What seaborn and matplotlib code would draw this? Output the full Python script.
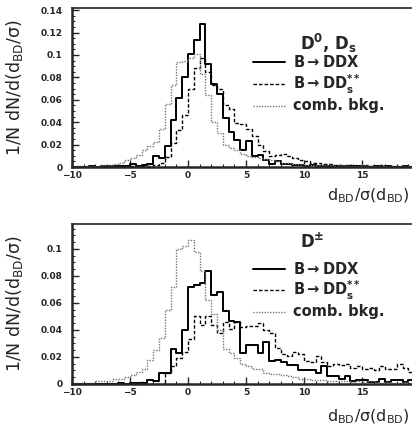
import numpy as np
import pandas as pd
import matplotlib
matplotlib.use("Agg")
import matplotlib.pyplot as plt
import seaborn as sns

# bins of d_BD/sigma, width 0.5 from -10 to 20
bin_edges = [float(v) for v in np.arange(-10, 20.01, 0.5)]
bin_centers = [v + 0.25 for v in bin_edges[:-1]]

# upper panel: D0, Ds
top_ddx = [0, 0, 0, 0.0005, 0, 0.0005, 0.0005, 0.001, 0.0005, 0.001,
           0.0025, 0.001, 0.002, 0.003, 0.0095, 0.008, 0.019, 0.042, 0.062, 0.08,
           0.101, 0.113, 0.128, 0.092, 0.074, 0.065, 0.044, 0.031, 0.024, 0.015,
           0.023, 0.01, 0.011, 0.006, 0.003, 0.005, 0.003, 0.003, 0.002, 0.002,
           0.001, 0.0015, 0.001, 0.001, 0.0005, 0.001, 0.0005, 0.0005, 0.001, 0.0005,
           0.0005, 0, 0.0005, 0, 0.0005, 0, 0, 0.0005, 0, 0]
top_dds = [0, 0, 0, 0, 0, 0, 0, 0.0005, 0, 0.0005,
           0.001, 0.0005, 0.001, 0.001, 0.002, 0.004, 0.009, 0.021, 0.033, 0.046,
           0.07, 0.088, 0.097, 0.085, 0.073, 0.07, 0.055, 0.052, 0.039, 0.038,
           0.034, 0.028, 0.02, 0.014, 0.01, 0.011, 0.012, 0.01, 0.008, 0.006,
           0.005, 0.004, 0.004, 0.003, 0.003, 0.002, 0.002, 0.0015, 0.002, 0.001,
           0.0015, 0.001, 0.001, 0.0015, 0.001, 0.0005, 0.001, 0.001, 0.0005, 0.001]
top_bkg = [0.0005, 0.001, 0.0005, 0.001, 0.001, 0.0015, 0.002, 0.003, 0.004, 0.006,
           0.008, 0.011, 0.015, 0.019, 0.022, 0.034, 0.056, 0.073, 0.094, 0.095,
           0.097, 0.101, 0.083, 0.064, 0.04, 0.03, 0.02, 0.017, 0.015, 0.012,
           0.01, 0.009, 0.008, 0.007, 0.006, 0.005, 0.004, 0.004, 0.003, 0.003,
           0.002, 0.002, 0.002, 0.0015, 0.0015, 0.001, 0.0015, 0.001, 0.001, 0.001,
           0.0015, 0.001, 0.001, 0.001, 0.0005, 0.001, 0.001, 0.0005, 0.001, 0.0005]

# lower panel: D+-
bot_ddx = [0, 0, 0, 0, 0, 0, 0, 0, 0.0005, 0,
           0.001, 0.0005, 0.001, 0.003, 0.002, 0.008, 0.008, 0.026, 0.023, 0.04,
           0.072, 0.073, 0.075, 0.084, 0.066, 0.068, 0.054, 0.047, 0.046, 0.023,
           0.029, 0.029, 0.023, 0.031, 0.017, 0.018, 0.016, 0.014, 0.014, 0.01,
           0.01, 0.01, 0.008, 0.013, 0.006, 0.006, 0.004, 0.006, 0.002, 0.003,
           0.003, 0.0015, 0.0015, 0.0035, 0.0015, 0.003, 0.003, 0.0015, 0.003, 0.0015]
bot_dds = [0, 0, 0, 0, 0, 0, 0, 0, 0, 0,
           0, 0, 0, 0, 0, 0, 0.008, 0.013, 0.019, 0.024,
           0.033, 0.05, 0.044, 0.05, 0.044, 0.038, 0.046, 0.041, 0.046, 0.042,
           0.043, 0.043, 0.045, 0.04, 0.038, 0.027, 0.022, 0.021, 0.024, 0.022,
           0.017, 0.016, 0.021, 0.016, 0.013, 0.015, 0.014, 0.015, 0.012, 0.013,
           0.011, 0.012, 0.01, 0.013, 0.011, 0.011, 0.015, 0.012, 0.009, 0.008]
bot_bkg = [0.001, 0.001, 0.001, 0.001, 0.002, 0.002, 0.002, 0.004, 0.004, 0.005,
           0.007, 0.009, 0.011, 0.018, 0.025, 0.034, 0.055, 0.072, 0.1, 0.102,
           0.107, 0.098, 0.084, 0.062, 0.052, 0.04, 0.026, 0.023, 0.019, 0.015,
           0.013, 0.011, 0.011, 0.0085, 0.0075, 0.0075, 0.0065, 0.006, 0.005, 0.004,
           0.004, 0.003, 0.003, 0.003, 0.002, 0.002, 0.002, 0.002, 0.0015, 0.002,
           0.0015, 0.002, 0.0015, 0.001, 0.0015, 0.001, 0.001, 0.0015, 0.001, 0.001]

labels = [r"B$\rightarrow$DDX", r"B$\rightarrow$DD$^{**}_{s}$", "comb. bkg."]
styles = [dict(color="black", linestyle="-", linewidth=1.4),
          dict(color="black", linestyle=(0, (2.5, 1.5)), linewidth=1.0),
          dict(color="#777777", linestyle=(0, (1, 1)), linewidth=1.0)]

sns.set_style("ticks")
plt.rcParams["font.family"] = ["DejaVu Sans"]
plt.rcParams["mathtext.default"] = "regular"

fig = plt.figure(figsize=(4.12, 4.25), dpi=100)
ax_top = fig.add_axes([0.1748, 0.607, 0.8447, 0.374])
ax_bot = fig.add_axes([0.1748, 0.0965, 0.8447, 0.3765])

xlab = r"d$_{BD}$/$\sigma$(d$_{BD}$)"
ylab = r"1/N dN/d(d$_{BD}$/$\sigma$)"


def draw_panel(ax, series, header, ytop, header_y, rows_y, xlab_y):
    for vals, st in zip(series, styles):
        df = pd.DataFrame({"x": bin_centers, "w": vals})
        sns.histplot(data=df, x="x", weights="w", bins=bin_edges, element="step",
                     fill=False, ax=ax, **st)
    ax.set_xlim(-10, 20)
    ax.set_ylim(0, ytop)
    yt = np.arange(0, ytop, 0.02)
    ax.set_xticks(np.arange(-10, 21, 5))
    ax.set_xticks(np.arange(-10, 21, 1), minor=True)
    ax.set_yticks(yt)
    ax.set_yticks(np.arange(0, ytop, 0.005), minor=True)
    ax.set_yticklabels([("0" if v == 0 else f"{v:.2f}".rstrip("0")) for v in yt])
    ax.set_xticklabels(["\u221210", "\u22125", "0", "5", "10", "15", "20"])
    ax.tick_params(which="major", direction="in", length=5, width=1, labelsize=6.5)
    ax.tick_params(axis="y", which="major", pad=7)
    ax.tick_params(axis="x", which="major", pad=3)
    ax.tick_params(which="minor", direction="in", length=2.5, width=0.8)
    for lab in ax.get_xticklabels() + ax.get_yticklabels():
        lab.set_fontweight("bold")
    for side in ["left", "bottom"]:
        ax.spines[side].set_linewidth(1.8)
    ax.spines["top"].set_linewidth(1.2)
    ax.spines["right"].set_visible(False)

    ax.set_ylabel(ylab, fontsize=12.5)
    ax.yaxis.set_label_coords(-0.135, 0.5)
    ax.set_xlabel(xlab, fontsize=11.5, loc="right")
    ax.xaxis.set_label_coords(0.97, xlab_y)

    ax.text(0.655, header_y, header, transform=ax.transAxes, fontsize=12,
            fontweight="bold", va="center", ha="left")
    for lab, st, y in zip(labels, styles, rows_y):
        ax.plot([0.52, 0.612], [y, y], transform=ax.transAxes, **st)
        ax.text(0.635, y, lab, transform=ax.transAxes, fontsize=10.5,
                fontweight="bold", va="center", ha="left")


draw_panel(ax_top, [top_ddx, top_dds, top_bkg], r"D$^{0}$, D$_{s}$", 0.1418,
           0.78, [0.66, 0.522, 0.384], -0.125)
draw_panel(ax_bot, [bot_ddx, bot_dds, bot_bkg], r"D$^{\pm}$", 0.1185,
           0.885, [0.719, 0.5875, 0.45], -0.145)

fig.savefig("out.png", dpi=100)
